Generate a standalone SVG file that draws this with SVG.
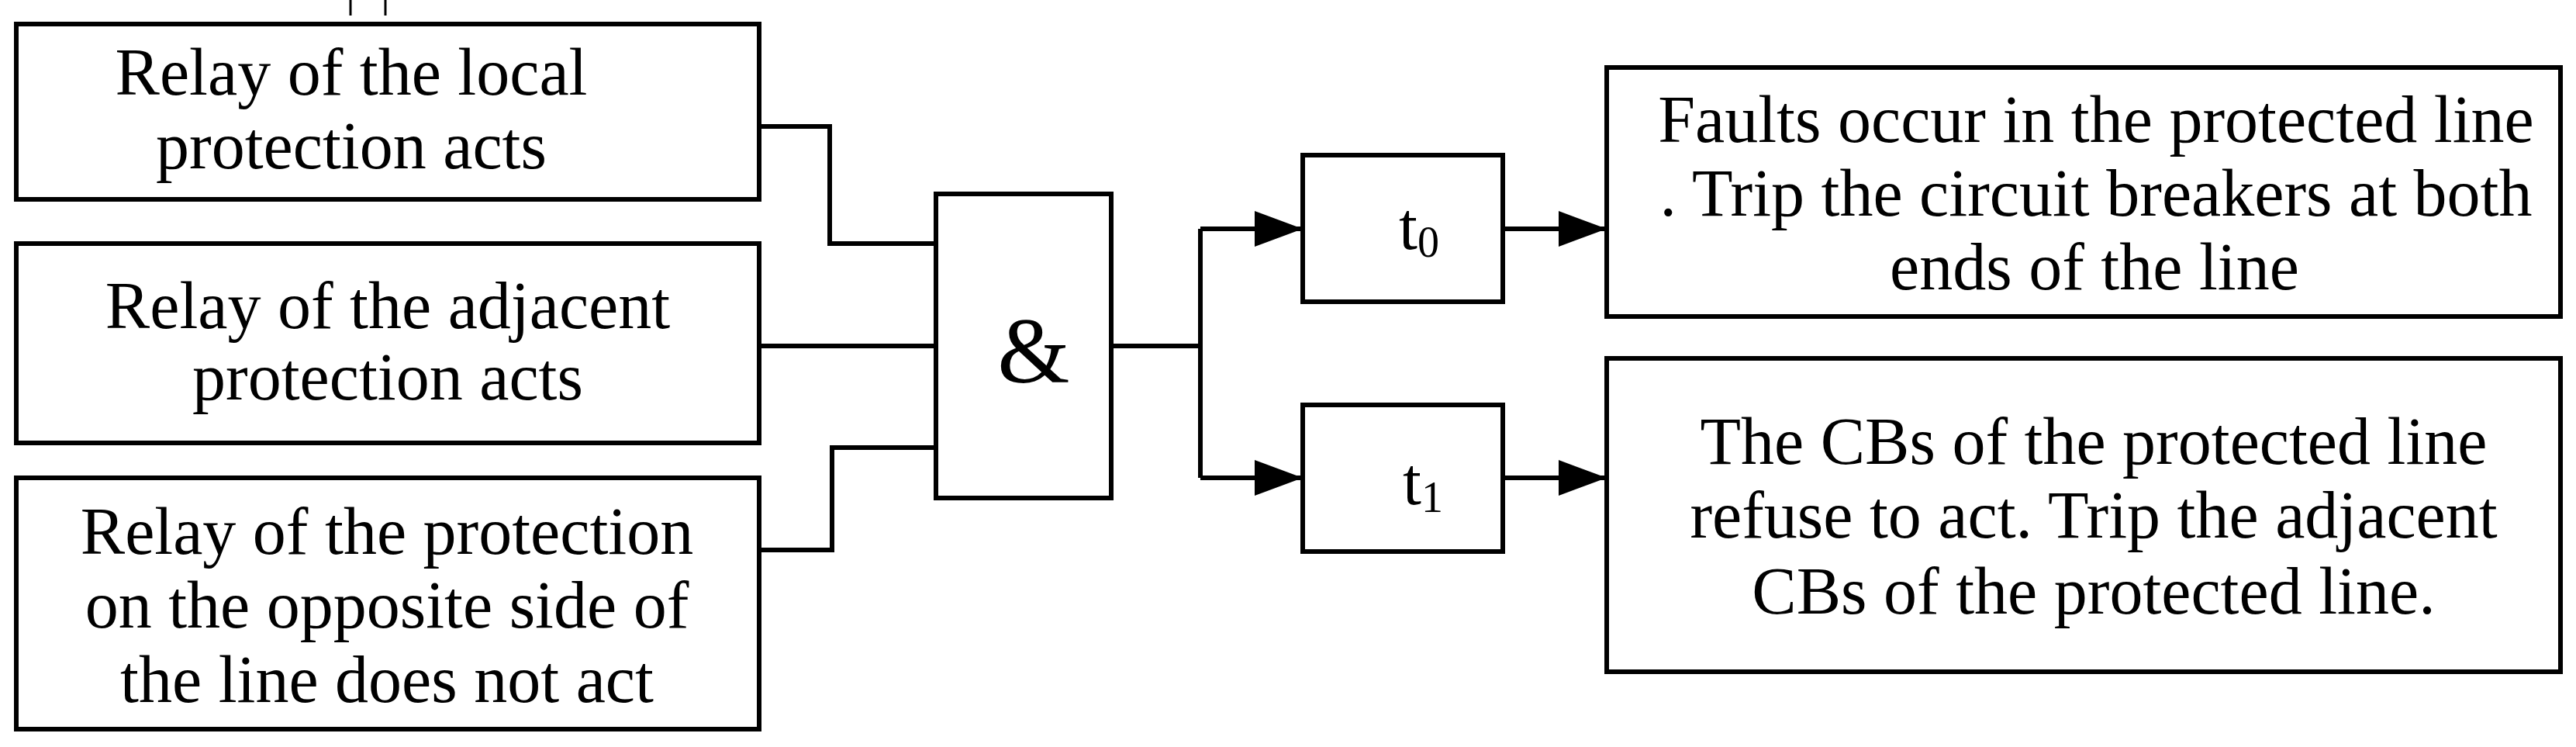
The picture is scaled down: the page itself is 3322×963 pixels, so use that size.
<svg xmlns="http://www.w3.org/2000/svg" width="3322" height="963" viewBox="0 0 3322 963">
<style>
.b{fill:#fff;stroke:#000;stroke-width:6}
.c{fill:none;stroke:#000;stroke-width:6}
text{font-family:"Liberation Serif",serif;font-size:86px;fill:#000;text-anchor:middle}
</style>
<defs>
<marker id="ar" viewBox="0 0 62 46" refX="62" refY="23" markerWidth="62" markerHeight="46" markerUnits="userSpaceOnUse" orient="auto"><path d="M0,0L62,23L0,46z" fill="#000"/></marker></defs>
<g id="ticks" class="c" style="stroke-width:3"><line x1="452" y1="0" x2="452" y2="20"/><line x1="497" y1="0" x2="497" y2="20"/></g>
<g id="n1"><rect class="b" x="21" y="31" width="958" height="226"/><text x="453" y="122">Relay of the local</text><text x="453" y="217">protection acts</text></g>
<g id="n2"><rect class="b" x="21" y="314" width="958" height="257"/><text x="500" y="423">Relay of the adjacent</text><text x="500" y="515">protection acts</text></g>
<g id="n3"><rect class="b" x="21" y="616" width="958" height="324"/><text x="499" y="714">Relay of the protection</text><text x="499" y="809">on the opposite side of</text><text x="499" y="905">the line does not act</text></g>
<g id="and"><rect class="b" x="1207" y="250" width="226" height="392"/><text x="1333" y="493" style="font-size:120px">&amp;</text></g>
<g id="t0"><rect class="b" x="1680" y="200" width="258" height="189"/><text x="1830" y="321">t<tspan style="font-size:56px" dy="10">0</tspan></text></g>
<g id="t1"><rect class="b" x="1680" y="522" width="258" height="189"/><text x="1835" y="650">t<tspan style="font-size:56px" dy="10">1</tspan></text></g>
<g id="r1"><rect class="b" x="2072" y="87" width="1230" height="321"/><text x="2703" y="183">Faults occur in the protected line</text><text x="2703" y="278">. Trip the circuit breakers at both</text><text x="2701" y="373">ends of the line</text></g>
<g id="r2"><rect class="b" x="2072" y="462" width="1230" height="404"/><text x="2700" y="598">The CBs of the protected line</text><text x="2700" y="693">refuse to act. Trip the adjacent</text><text x="2700" y="791">CBs of the protected line.</text></g>
<g id="connectors" class="c">
<polyline points="979,163 1070,163 1070,314 1207,314"/>
<line x1="979" y1="446" x2="1207" y2="446"/>
<polyline points="979,709 1073,709 1073,577 1207,577"/>
<polyline points="1433,446 1548,446"/>
<polyline points="1548,295 1548,616"/>
<line x1="1548" y1="295" x2="1680" y2="295" marker-end="url(#ar)"/>
<line x1="1548" y1="616" x2="1680" y2="616" marker-end="url(#ar)"/>
<line x1="1938" y1="295" x2="2072" y2="295" marker-end="url(#ar)"/>
<line x1="1938" y1="616" x2="2072" y2="616" marker-end="url(#ar)"/>
</g>
</svg>
